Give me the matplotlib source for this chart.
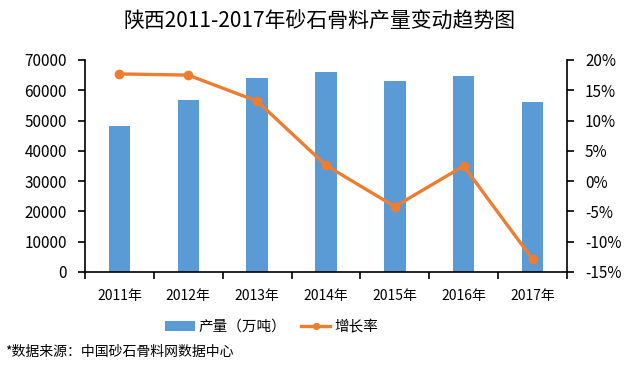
"""Shaanxi aggregate output 2011-2017: bars for output, line for growth rate."""

import matplotlib.pyplot as plt
import numpy as np
from matplotlib.ticker import FuncFormatter

plt.rcParams["font.family"] = ["Noto Sans CJK SC", "DejaVu Sans"]

YEARS = ["2011年", "2012年", "2013年", "2014年", "2015年", "2016年", "2017年"]
OUTPUT = [48300, 56650, 64130, 65900, 63130, 64580, 56200]  # 万吨
GROWTH = [17.7, 17.5, 13.2, 2.6, -4.2, 2.5, -12.9]  # %

BAR_COLOR = "#5B9BD5"
LINE_COLOR = "#ED7D31"


def main() -> None:
    fig = plt.figure(figsize=(6.4, 3.68), dpi=100)
    ax = fig.add_axes([0.1328, 0.2609, 0.7531, 0.5761])
    x = np.arange(len(YEARS))

    bars = ax.bar(x, OUTPUT, width=0.31, color=BAR_COLOR, label="产量（万吨）", zorder=2)
    ax.set_xlim(-0.5, len(YEARS) - 0.5)
    ax.set_ylim(0, 70000)
    ax.set_yticks(np.arange(0, 70001, 10000))
    ax.set_xticks(np.arange(-0.5, len(YEARS), 1.0))
    ax.set_xticklabels([])
    ax.set_xticks(x, minor=True)
    ax.set_xticklabels(YEARS, minor=True, fontsize=10)
    ax.tick_params(axis="x", which="minor", length=0, pad=12)
    ax.tick_params(axis="x", which="major", length=5, width=1.2, direction="out")
    ax.tick_params(axis="y", length=5, width=1.2, labelsize=11, pad=8)
    for side in ("top", "right"):
        ax.spines[side].set_visible(False)
    for side in ("left", "bottom"):
        ax.spines[side].set_linewidth(1.2)

    ax2 = ax.twinx()
    line, = ax2.plot(x, GROWTH, color=LINE_COLOR, linewidth=2.4, marker="o",
                     markersize=6, label="增长率", zorder=3)
    ax2.set_ylim(-15, 20)
    ax2.set_yticks(np.arange(-15, 21, 5))
    ax2.yaxis.set_major_formatter(FuncFormatter(lambda v, _: f"{v:.0f}%"))
    ax2.tick_params(axis="y", length=5, width=1.2, labelsize=11, pad=8)
    for side in ("top", "left", "bottom"):
        ax2.spines[side].set_visible(False)
    ax2.spines["right"].set_linewidth(1.2)

    fig.text(0.5, 0.94, "陕西2011-2017年砂石骨料产量变动趋势图", ha="center", va="center",
             fontsize=15)
    fig.legend([bars, line], ["产量（万吨）", "增长率"], loc="center",
               bbox_to_anchor=(0.425, 0.112), ncol=2, frameon=False, fontsize=10.5,
               handlelength=2.0, columnspacing=1.0, handletextpad=0.3, markerscale=0.7)
    fig.text(0.008, 0.043, "*数据来源：中国砂石骨料网数据中心", ha="left", va="center",
             fontsize=10)

    fig.savefig("out.png", dpi=100)
    plt.close(fig)


if __name__ == "__main__":
    main()
